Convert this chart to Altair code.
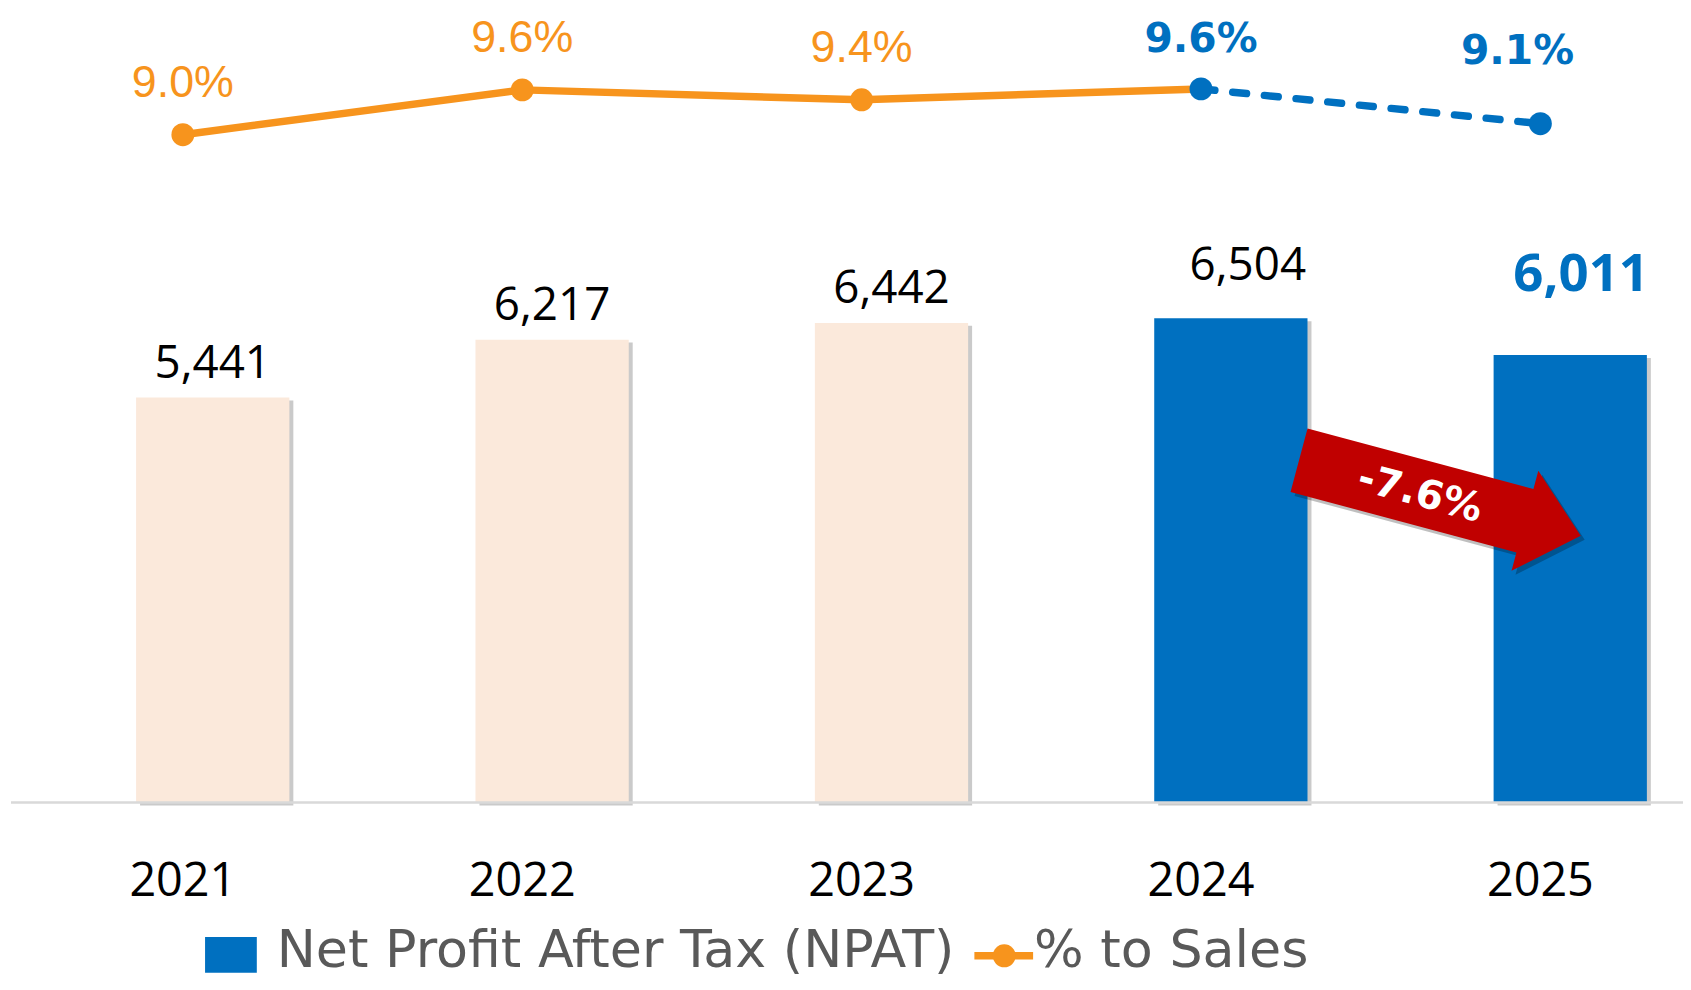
import altair as alt
import pandas as pd

# ---- data ----
years = [2021, 2022, 2023, 2024, 2025]
npat = [5441, 6217, 6442, 6504, 6011]
pct_to_sales = [8.98, 9.58, 9.447, 9.593, 9.127]
legend_labels = ["Net Profit After Tax (NPAT)", "% to Sales"]

BLUE = "#0070C0"
ORANGE = "#F7941D"
PALE = "#FBE9DB"
RED = "#C00000"
GREY = "#595959"
FONT = "Open Sans"
PCT_FONT = "Liberation Sans"
BOLD_FONT = "DejaVu Sans"
LEG_FONT = "DejaVu Sans"

df = pd.DataFrame({"year": years, "npat": npat, "pct": pct_to_sales})
df["npat_label"] = df["npat"].map(lambda v: f"{v:,}")
df["pct_label"] = df["pct"].map(lambda v: f"{v:.1f}%")
change_label = f"{(npat[-1] / npat[-2] - 1) * 100:.1f}%"

W, H = 1680, 796

x_enc = alt.X(
    "year:O",
    scale=alt.Scale(type="band", range=[2.2, 1707.2], paddingInner=0, paddingOuter=0, round=False),
    axis=alt.Axis(title=None, domain=False, ticks=False, tickSize=0, grid=False,
                  labelAngle=0, labelFont=FONT, labelFontSize=47, labelColor="black",
                  labelPadding=93, labelBaseline="alphabetic"),
)
y_bar = alt.Y("npat:Q", scale=alt.Scale(domain=[0, 10640], nice=False, zero=True), axis=None)
y_pct = alt.Y("pct:Q", scale=alt.Scale(domain=[0.033, 10.646], nice=False, zero=False), axis=None)

base = alt.Chart(df)

shadow = base.mark_bar(xOffset=34, yOffset=3, size=154, color="#7a7a7a", opacity=0.4).encode(x=x_enc, y=y_bar)
bars_past = base.transform_filter("datum.year <= 2023").mark_bar(xOffset=30, size=154, color=PALE).encode(x=x_enc, y=y_bar)
bars_now = base.transform_filter("datum.year >= 2024").mark_bar(xOffset=30, size=154, color=BLUE).encode(x=x_enc, y=y_bar)

baseline = alt.Chart(pd.DataFrame({"z": [0]})).mark_rule(color="#D9D9D9", strokeWidth=2.5).encode(
    y=alt.Y("z:Q", scale=alt.Scale(domain=[0, 10640], nice=False), axis=None)
)

line_orange = base.transform_filter("datum.year <= 2024").mark_line(color=ORANGE, strokeWidth=7.5).encode(x=x_enc, y=y_pct)
line_blue = base.transform_filter("datum.year >= 2024").mark_line(
    color=BLUE, strokeWidth=7.5, strokeDash=[14, 18], strokeCap="round").encode(x=x_enc, y=y_pct)
pts_orange = base.transform_filter("datum.year <= 2023").mark_circle(size=530, opacity=1, color=ORANGE).encode(x=x_enc, y=y_pct)
pts_blue = base.transform_filter("datum.year >= 2024").mark_circle(size=530, opacity=1, color=BLUE).encode(x=x_enc, y=y_pct)

pct_lab_past = base.transform_filter("datum.year <= 2023").mark_text(
    font=PCT_FONT, fontSize=45, color=ORANGE, baseline="alphabetic", dy=-38).encode(x=x_enc, y=y_pct, text="pct_label:N")
pct_lab_2024 = base.transform_filter("datum.year == 2024").mark_text(
    font=BOLD_FONT, fontSize=41, fontWeight="bold", color=BLUE, baseline="alphabetic", dy=-37).encode(x=x_enc, y=y_pct, text="pct_label:N")
pct_lab_2025 = base.transform_filter("datum.year == 2025").mark_text(
    font=BOLD_FONT, fontSize=41, fontWeight="bold", color=BLUE, baseline="alphabetic", dy=-60, dx=-23).encode(x=x_enc, y=y_pct, text="pct_label:N")

npat_lab_past = base.transform_filter("datum.year <= 2023").mark_text(
    font=FONT, fontSize=46, color="black", baseline="alphabetic", dy=-20, dx=30).encode(x=x_enc, y=y_bar, text="npat_label:N")
npat_lab_2024 = base.transform_filter("datum.year == 2024").mark_text(
    font=FONT, fontSize=46, color="black", baseline="alphabetic", dy=-38, dx=47).encode(x=x_enc, y=y_bar, text="npat_label:N")
npat_lab_2025 = base.transform_filter("datum.year == 2025").mark_text(
    font=FONT, fontSize=53, fontWeight="bold", color=BLUE, baseline="alphabetic", dy=-64, dx=41).encode(x=x_enc, y=y_bar, text="npat_label:N")

ARROW = "M-1,-0.225 L0.604,-0.225 L0.604,-0.355 L1,0 L0.604,0.355 L0.604,0.225 L-1,0.225 Z"
last = base.transform_filter("datum.year == 2025")
arrow_shadow = last.mark_point(shape=ARROW, size=85849, angle=15, filled=True, color="#000000",
                               opacity=0.25, strokeWidth=0, xOffset=-97, yOffset=4).encode(x=x_enc, y=alt.value(490))
arrow = last.mark_point(shape=ARROW, size=85849, angle=15, filled=True, color=RED,
                        opacity=1, strokeWidth=0, xOffset=-101).encode(x=x_enc, y=alt.value(490))
arrow_text = last.mark_text(font=BOLD_FONT, fontSize=40, fontWeight="bold", color="white", angle=15,
                            align="center", baseline="middle", xOffset=-121).encode(
    x=x_enc, y=alt.value(486), text=alt.value(change_label))

one = alt.Chart(pd.DataFrame({"label": legend_labels}))
leg_rect = one.transform_filter(alt.datum.label == legend_labels[0]).mark_rect(color=BLUE).encode(
    x=alt.value(195), x2=alt.value(247), y=alt.value(931), y2=alt.value(967))
leg_text1 = one.transform_filter(alt.datum.label == legend_labels[0]).mark_text(
    font=LEG_FONT, fontSize=52.5, color=GREY, align="left", baseline="alphabetic").encode(
    x=alt.value(267), y=alt.value(961), text="label:N")
leg_line = one.transform_filter(alt.datum.label == legend_labels[1]).mark_rule(color=ORANGE, strokeWidth=7.5).encode(
    x=alt.value(968), x2=alt.value(1027), y=alt.value(950))
leg_dot = one.transform_filter(alt.datum.label == legend_labels[1]).mark_circle(color=ORANGE, size=530, opacity=1).encode(
    x=alt.value(998), y=alt.value(950))
leg_text2 = one.transform_filter(alt.datum.label == legend_labels[1]).mark_text(
    font=LEG_FONT, fontSize=52.5, color=GREY, align="left", baseline="alphabetic").encode(
    x=alt.value(1028), y=alt.value(961), text="label:N")

chart = alt.layer(
    shadow, bars_past, bars_now, baseline,
    line_orange, line_blue, pts_orange, pts_blue,
    pct_lab_past, pct_lab_2024, pct_lab_2025,
    npat_lab_past, npat_lab_2024, npat_lab_2025,
    arrow_shadow, arrow, arrow_text,
    leg_rect, leg_text1, leg_line, leg_dot, leg_text2,
).resolve_scale(y="independent").properties(
    width=W, height=H,
    autosize=alt.AutoSizeParams(type="none"),
    padding={"left": 3, "top": 0, "right": 0, "bottom": 178},
    background="white",
).configure_view(stroke=None)

chart.save("out.html", embed_options={"renderer": "svg", "actions": False})
